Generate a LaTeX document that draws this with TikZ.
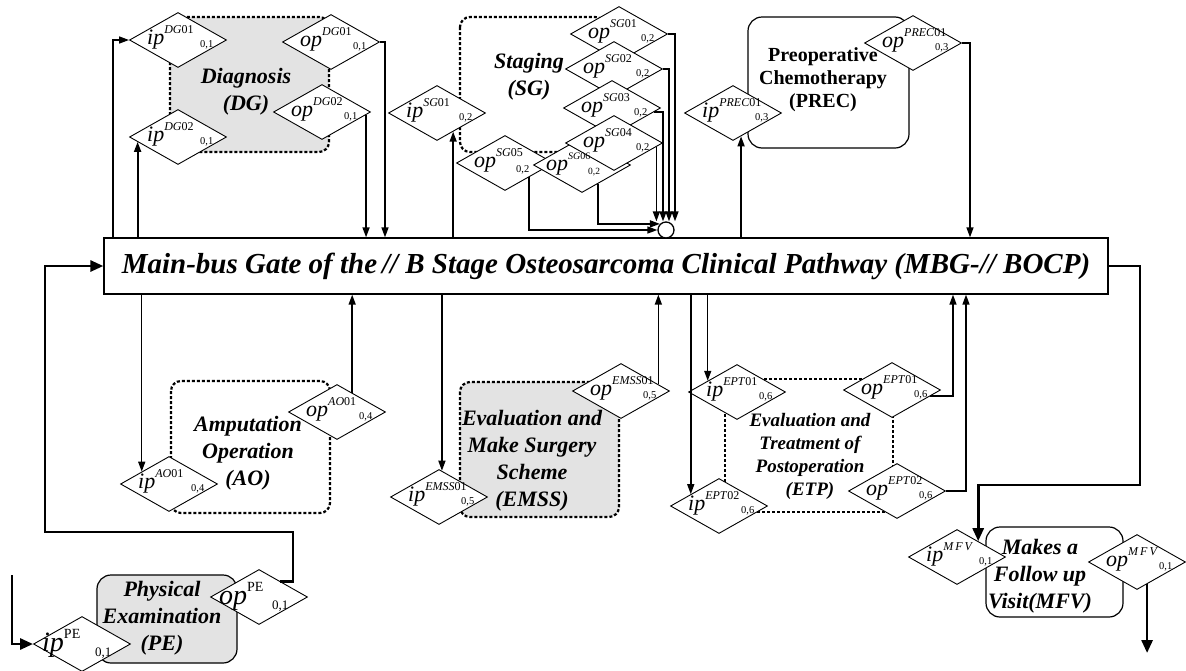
\documentclass[tikz,border=0pt]{standalone}
\usepackage{fontspec}
\setmainfont{Liberation Serif}
\usetikzlibrary{shapes.geometric,arrows.meta,calc}

\tikzset{
 port/.style={diamond,draw,fill=white,line width=0.9pt,minimum width=97pt,minimum height=55pt,inner sep=0pt},
 iotxt/.style={anchor=base west,inner sep=0pt,font=\itshape},
 subtxt/.style={anchor=base west,inner sep=0pt},
 conn/.style={line width=1.5pt,-{Triangle[length=10pt,width=7pt]}},
 thickarrow/.style={line width=2.8pt,-{Triangle[length=13pt,width=11pt]}},
 region/.style={draw,dash pattern=on 3pt off 2pt,line width=2.2pt,rounded corners=10pt},
 plainbox/.style={draw,line width=1.2pt,rounded corners=14pt},
 title/.style={font=\fontsize{22}{27}\selectfont\bfseries\itshape,align=center,inner sep=0pt},
 bus/.style={draw,fill=white,line width=1.3pt,minimum width=1004pt,minimum height=56pt,inner sep=0pt,
   font=\fontsize{29}{29}\selectfont\bfseries\itshape},
}

% name, x, y, io, superscript, subscript
\newcommand{\porttext}[6]{%
 \node[iotxt] (#1io) at ({#2-31},{#3+4}) {\fontsize{22}{22}\selectfont #4\raisebox{11pt}{\fontsize{12}{12}\selectfont #5}};
 \node[subtxt] (#1sub) at ({#2+22},{#3+7}) {\fontsize{10.5}{10.5}\selectfont #6};
}
\newcommand{\port}[6]{%
 \node[port] (#1) at (#2,#3) {};
 \porttext{#1}{#2}{#3}{#4}{#5}{#6}%
}
\newcommand{\bigport}[6]{%
 \node[port] (#1) at (#2,#3) {};
 \node[iotxt] (#1io) at ({#2-40},{#3+7}) {\fontsize{28}{28}\selectfont #4\raisebox{13pt}{\fontsize{14}{14}\selectfont #5}};
 \node[subtxt] (#1sub) at ({#2+13},{#3+12}) {\fontsize{13}{13}\selectfont #6};
}

\begin{document}
\begin{tikzpicture}[x=1pt,y=-1pt]
\useasboundingbox (0,0) rectangle (1186,670);

% ---------- regions ----------
\draw[region,fill=gray!22] (170,17) rectangle (329,152);
\draw[region] (460,17) rectangle (605,152);
\draw[plainbox] (748,17) rectangle (909,148);
\draw[region] (171,381) rectangle (330,513);
\draw[region,fill=gray!22] (460,382) rectangle (619,517);
\draw[region,rounded corners=0pt] (725,379) rectangle (893,512);
\draw[plainbox,fill=gray!22] (97,575) rectangle (237,663);
\draw[plainbox] (986,527) rectangle (1123,617);

% ---------- main bus ----------
\node[bus] (bus) at (606,266) {Main-bus Gate of the\thinspace// B Stage Osteosarcoma Clinical Pathway (MBG-// BOCP)};
\node[circle,draw,fill=white,line width=1.3pt,minimum size=16pt,inner sep=0pt] (join) at (666,230) {};

% ---------- ports ----------
\port{ipdg1}{178}{40}{ip}{DG\textup{01}}{0,1}
\port{opdg1}{331}{42}{op}{DG\textup{01}}{0,1}
\port{ipdg2}{178}{137}{ip}{DG\textup{02}}{0,1}
\port{opdg2}{322}{112}{op}{DG\textup{02}}{0,1}

\port{ipsg1}{437}{113}{ip}{SG\textup{01}}{0,2}
% staging output stack: shapes first, texts afterwards
\node[port] (opsg1) at (619,34) {};
\node[port] (opsg2) at (614,69) {};
\node[port] (opsg3) at (612,108) {};
\node[port] (opsg5) at (505,163) {};
\node[port] (opsg6) at (582,165) {};
\node[port] (opsg4) at (614,143) {};
\porttext{opsg1}{619}{34}{op}{SG\textup{01}}{0,2}
\porttext{opsg2}{614}{69}{op}{SG\textup{02}}{0,2}
\porttext{opsg3}{612}{108}{op}{SG\textup{03}}{0,2}
\porttext{opsg4}{614}{143}{op}{SG\textup{04}}{0,2}
\node[iotxt] (opsg5io) at (474,167) {\fontsize{22}{22}\selectfont op\raisebox{11pt}{\fontsize{12}{12}\selectfont SG\textup{05}}};
\node[subtxt] (opsg5sub) at (516,172) {\fontsize{10.5}{10.5}\selectfont 0,2};
\node[iotxt] (opsg6io) at (546,170) {\fontsize{22}{22}\selectfont op\raisebox{11pt}{\fontsize{10}{10}\selectfont SG\textup{06}}};
\node[subtxt] (opsg6sub) at (588,174) {\fontsize{9.5}{9.5}\selectfont 0,2};

\port{ipprec}{733}{113}{ip}{PREC\textup{01}}{0,3}
\port{opprec}{913}{43}{op}{PREC\textup{01}}{0,3}

\port{ipao}{169}{484}{ip}{AO\textup{01}}{0,4}
\port{opao}{337}{412}{op}{AO\textup{01}}{0,4}

\port{ipemss}{439}{497}{ip}{EMSS\textup{01}}{0,5}
\port{opemss}{621}{391}{op}{EMSS\textup{01}}{0,5}

\port{ipept1}{737}{392}{ip}{EPT\textup{01}}{0,6}
\port{ipept2}{719}{506}{ip}{EPT\textup{02}}{0,6}
\port{opept1}{892}{390}{op}{EPT\textup{01}}{0,6}
\port{opept2}{897}{491}{op}{EPT\textup{02}}{0,6}

\bigport{ippe}{82}{644}{ip}{\upshape PE}{0,1}
\bigport{oppe}{259}{597}{op}{\upshape PE}{0,1}

\port{ipmfv}{957}{557}{ip}{M\,F\,V}{0,1}
\port{opmfv}{1137}{562}{op}{M\,F\,V}{0,1}

% ---------- titles ----------
\node[title] (dgt) at (246,92) {Diagnosis\\(DG)};
\node[title] (sgt) at (529,77) {Staging\\(SG)};
\node[title,font=\fontsize{20}{23}\selectfont\bfseries] (prect) at (823,80) {Preoperative\\Chemotherapy\\(PREC)};
\node[title] (aot) at (248,453) {Amputation\\Operation\\(AO)};
\node[title] (emsst) at (532,461) {Evaluation and\\Make Surgery\\Scheme\\(EMSS)};
\node[title,font=\fontsize{19}{23}\selectfont\bfseries\itshape] (eptt) at (810,456) {Evaluation and\\Treatment of\\Postoperation\\(ETP)};
\node[title] (pet) at (162,618) {Physical\\Examination\\(PE)};
\node[title] (mfvt) at (1040,576) {Makes a\\Follow up\\Visit(MFV)};

% ---------- connectors: top ----------
\draw[conn] (bus.north -| 113,0) |- (ipdg1.west);
\coordinate (a1) at ($(ipdg2.west)!0.175!(ipdg2.south)$);
\draw[conn,line width=1.9pt] (a1 |- bus.north) -- (a1);
\coordinate (a2) at ($(opdg2.east)!0.1!(opdg2.south)$);
\draw[conn] (a2) -- (a2 |- bus.north);
\draw[conn] (opdg1.east) -| (bus.north -| 385,0);
\coordinate (a3) at ($(ipsg1.east)!0.67!(ipsg1.south)$);
\draw[conn] (a3 |- bus.north) -- (a3);

\draw[conn] (opsg1.east) -| (join.north -| 675,0);
\draw[conn] (opsg2.east) -| (join.north -| 669,0);
\coordinate (s3) at ($(opsg3.east)!0.15!(opsg3.south)$);
\draw[conn] (s3) -| (join.north -| 663,0);
\coordinate (s4) at ($(opsg4.east)!0.134!(opsg4.south)$);
\draw[conn] (s4) -- (s4 |- join.north);
\coordinate (s5) at ($(opsg5.east)!0.505!(opsg5.south)$);
\draw[conn] (s5) |- (join.west);
\coordinate (s6) at ($(opsg6.east)!0.67!(opsg6.south)$);
\draw[conn] (s6) |- (join.135);

\coordinate (a4) at ($(ipprec.east)!0.835!(ipprec.south)$);
\draw[conn] (a4 |- bus.north) -- (a4);
\draw[conn] (opprec.east) -| (bus.north -| 970,0);

% ---------- connectors: bottom ----------
\coordinate (b1) at ($(ipao.west)!0.443!(ipao.north)$);
\draw[conn] (b1 |- bus.south) -- (b1);
\coordinate (b2) at ($(opao.north)!0.31!(opao.east)$);
\draw[conn] (b2) -- (b2 |- bus.south);
\coordinate (b3) at ($(ipemss.north)!0.06!(ipemss.east)$);
\draw[conn] (b3 |- bus.south) -- (b3);
\coordinate (b4) at ($(opemss.north)!0.763!(opemss.east)$);
\draw[conn] (b4) -- (b4 |- bus.south);
\coordinate (b5) at ($(ipept1.west)!0.402!(ipept1.north)$);
\draw[conn] (b5 |- bus.south) -- (b5);
\coordinate (b6) at ($(ipept2.west)!0.423!(ipept2.north)$);
\draw[conn] (b6 |- bus.south) -- (b6);
\coordinate (b7) at ($(opept1.east)!0.22!(opept1.south)$);
\draw[conn] (b7) -| (bus.south -| 953,0);
\draw[conn] (opept2.east) -| (bus.south -| 966,0);

% ---------- thick paths ----------
\coordinate (r1) at (1140,485);
\coordinate (m1) at ($(ipmfv.north)!0.433!(ipmfv.east)$);
\draw[thickarrow] (bus.east) -| (r1) -| (m1);
\coordinate (m2) at ($(opmfv.east)!0.794!(opmfv.south)$);
\coordinate (mend) at (1147,653);
\draw[thickarrow] (m2) -- (m2 |- mend);

\coordinate (p0) at ($(oppe.north)!0.433!(oppe.east)$);
\coordinate (p1) at (293,532);
\coordinate (p2) at (45,266);
\draw[thickarrow] (p0) -| (p1) -| (p2) -- (bus.west);
\coordinate (pin) at (12,575);
\draw[thickarrow] (pin) |- (ippe.west);
\end{tikzpicture}
\end{document}
